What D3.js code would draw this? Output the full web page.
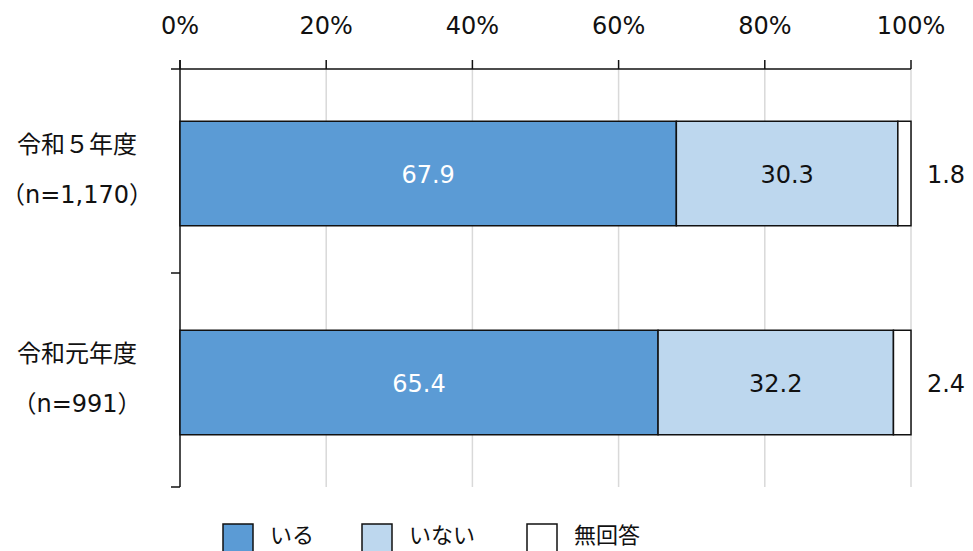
<!DOCTYPE html>
<html>
<head>
<meta charset="utf-8">
<script src="https://cdn.jsdelivr.net/npm/d3@7"></script>
<style>
  body { margin: 0; background: #fff; }
  text { font-family: 'DejaVu Sans', 'Noto Sans CJK JP', sans-serif; fill: #111; }
</style>
</head>
<body>
<svg width="973" height="551"></svg>
<script>
  const categories = ['令和５年度', '令和元年度'];
  const sampleSizes = ['（n=1,170）', '（n=991）'];
  const seriesNames = ['いる', 'いない', '無回答'];
  const iru = [67.9, 65.4];
  const inai = [30.3, 32.2];
  const mukaitou = [1.8, 2.4];
  const ticks = [0, 20, 40, 60, 80, 100];

  const colors = ['#5b9bd5', '#bdd7ee', '#ffffff'];
  const labelColors = ['#ffffff', '#111111', '#111111'];

  const svg = d3.select('svg');
  const margin = { top: 69, right: 62, bottom: 64, left: 180 };
  const width = 973, height = 551;

  const x = d3.scaleLinear().domain([0, 100]).range([margin.left, width - margin.right]);
  const y = d3.scaleBand().domain(categories).range([margin.top, height - margin.bottom])
    .paddingInner(0.5).paddingOuter(0.25);

  const rows = categories.map((c, i) => {
    const vals = [iru[i], inai[i], mukaitou[i]];
    let acc = 0;
    return vals.map((v, k) => {
      const seg = { cat: c, k, v, x0: acc, x1: acc + v };
      acc += v;
      return seg;
    });
  });

  // grid
  svg.append('g').selectAll('line').data(ticks.slice(1)).enter().append('line')
    .attr('x1', d => x(d)).attr('x2', d => x(d))
    .attr('y1', margin.top).attr('y2', height - margin.bottom)
    .attr('stroke', '#d9d9d9').attr('stroke-width', 1.5);

  // top axis
  const axisG = svg.append('g');
  axisG.append('line')
    .attr('x1', x(0) - 9).attr('x2', x(100))
    .attr('y1', margin.top).attr('y2', margin.top)
    .attr('stroke', '#111').attr('stroke-width', 1.5);
  axisG.selectAll('.tk').data(ticks).enter().append('line')
    .attr('x1', d => x(d)).attr('x2', d => x(d))
    .attr('y1', margin.top - 9).attr('y2', margin.top)
    .attr('stroke', '#111').attr('stroke-width', 1.5);
  axisG.selectAll('text').data(ticks).enter().append('text')
    .attr('x', d => x(d)).attr('y', 34)
    .attr('text-anchor', 'middle')
    .attr('font-size', 24)
    .text(d => d + '%');

  // left axis
  const leftG = svg.append('g');
  leftG.append('line')
    .attr('x1', x(0)).attr('x2', x(0))
    .attr('y1', margin.top - 9).attr('y2', height - margin.bottom)
    .attr('stroke', '#111').attr('stroke-width', 1.5);
  leftG.selectAll('.yt').data([1, 2]).enter().append('line')
    .attr('x1', x(0) - 9).attr('x2', x(0))
    .attr('y1', d => margin.top + d * (height - margin.bottom - margin.top) / 2 - (d === 1 ? 5 : 0))
    .attr('y2', d => margin.top + d * (height - margin.bottom - margin.top) / 2 - (d === 1 ? 5 : 0))
    .attr('stroke', '#111').attr('stroke-width', 1.5);

  // category labels
  const catG = svg.append('g');
  categories.forEach((c, i) => {
    const cy = y(c) + y.bandwidth() / 2;
    catG.append('text').attr('x', 77).attr('y', cy - 21)
      .attr('text-anchor', 'middle').attr('font-size', 24).text(c);
    catG.append('text').attr('x', 77).attr('y', cy + 29)
      .attr('text-anchor', 'middle').attr('font-size', 24).text(sampleSizes[i]);
  });

  // bars
  const barG = svg.append('g');
  rows.forEach(segs => {
    barG.selectAll(null).data(segs).enter().append('rect')
      .attr('x', d => x(d.x0)).attr('width', d => x(d.x1) - x(d.x0))
      .attr('y', d => y(d.cat)).attr('height', y.bandwidth())
      .attr('fill', d => colors[d.k])
      .attr('stroke', '#111').attr('stroke-width', 1.5);
    barG.selectAll(null).data(segs).enter().append('text')
      .attr('x', d => d.k === 2 ? x(100) + 35 : x((d.x0 + d.x1) / 2))
      .attr('y', d => y(d.cat) + y.bandwidth() / 2 + 9)
      .attr('text-anchor', 'middle')
      .attr('font-size', 24)
      .style('fill', d => labelColors[d.k])
      .text(d => d.v.toFixed(1));
  });

  // legend
  const legendX = [223, 362, 527];
  const legG = svg.append('g');
  seriesNames.forEach((s, i) => {
    legG.append('rect').attr('x', legendX[i]).attr('y', 524)
      .attr('width', 30).attr('height', 32)
      .attr('fill', colors[i]).attr('stroke', '#111').attr('stroke-width', 1.5);
    legG.append('text').attr('x', legendX[i] + 47).attr('y', 543)
      .attr('font-size', 22).text(s);
  });
</script>
</body>
</html>
